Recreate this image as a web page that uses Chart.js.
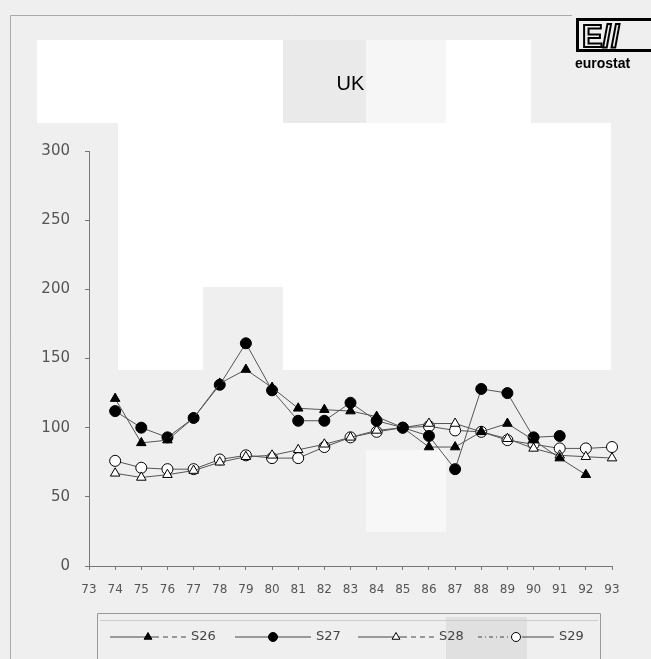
<!DOCTYPE html>
<html>
<head>
<meta charset="utf-8">
<script src="https://cdn.jsdelivr.net/npm/chart.js@4.4.1/dist/chart.umd.min.js"></script>
<style>
  html, body { margin: 0; padding: 0; background: #efefef; }
</style>
</head>
<body>
<canvas id="graficoUK" width="651" height="659"></canvas>
<script>
/* Datos (índice, 85 = 100) */
const years = ['73', '74', '75', '76', '77', '78', '79', '80', '81', '82', '83',
  '84', '85', '86', '87', '88', '89', '90', '91', '92', '93'];
const yTicks = [0, 50, 100, 150, 200, 250, 300];
const seriesNames = ['S26', 'S27', 'S28', 'S29'];

const s26 = [null, 121, 89, 91, 107, 132, 142, 129, 114, 113, 112, 108, 100, 86, 86, 97, 103, 91, 78, 66, null];
const s27 = [null, 112, 100, 93, 107, 131, 161, 127, 105, 105, 118, 105, 100, 94, 70, 128, 125, 93, 94, null, null];
const s28 = [null, 67, 64, 66, 69, 75, 79, 80, 84, 88, 93, 98, 100, 103, 103, 97, 92, 85, 80, 79, 78];
const s29 = [null, 76, 71, 70, 70, 77, 80, 78, 78, 86, 93, 97, 100, 101, 98, 97, 91, 88, 85, 85, 86];

// manchas claras del escaneo (fondo)
const patches = [
  [37, 40, 246, 83, '#ffffff'],
  [283, 40, 83, 83, '#eaeaea'],
  [366, 40, 80, 83, '#f6f6f6'],
  [446, 40, 85, 83, '#ffffff'],
  [118, 123, 493, 247, '#ffffff'],
  [203, 287, 80, 83, '#efefef'],
  [366, 450, 80, 82, '#f7f7f7'],
  [446, 617, 81, 42, '#e0e0e0']
];

const fondo = {
  id: 'fondo',
  beforeDraw(chart) {
    const c = chart.ctx;
    c.save();
    c.fillStyle = '#efefef';
    c.fillRect(0, 0, chart.width, chart.height);
    patches.forEach(p => { c.fillStyle = p[4]; c.fillRect(p[0], p[1], p[2], p[3]); });

    // marco
    c.strokeStyle = '#aaa';
    c.lineWidth = 1;
    c.beginPath();
    c.moveTo(10.5, 659); c.lineTo(10.5, 15.5); c.lineTo(572, 15.5);
    c.stroke();

    // logo eurostat
    c.strokeStyle = '#000';
    c.lineWidth = 3;
    c.strokeRect(577.5, 19.5, 80, 31);
    c.fillStyle = '#000';
    c.font = 'bold 31px "Liberation Sans"';
    c.textBaseline = 'alphabetic';
    c.lineWidth = 2;
    c.strokeText('E//', 582, 47);
    c.font = 'bold 14px "Liberation Sans"';
    c.fillText('eurostat', 575, 68);
    c.restore();
  }
};

const leyenda = {
  id: 'leyenda',
  afterDraw(chart) {
    const c = chart.ctx;
    const starts = [110, 235, 358, 478];
    const y = 637;
    c.save();
    c.strokeStyle = '#999';
    c.lineWidth = 1;
    c.beginPath();
    c.moveTo(97.5, 659); c.lineTo(97.5, 613.5); c.lineTo(600.5, 613.5); c.lineTo(600.5, 659);
    c.stroke();
    c.strokeStyle = '#ccc';
    c.beginPath();
    c.moveTo(100, 620.5); c.lineTo(598, 620.5);
    c.stroke();

    chart.data.datasets.forEach((ds, i) => {
      const x0 = starts[i];
      c.strokeStyle = '#444';
      c.lineWidth = 1;
      // tramo izquierdo y derecho con su propio trazo
      c.setLineDash(ds.legendDash[0]);
      c.beginPath(); c.moveTo(x0, y); c.lineTo(x0 + 44, y); c.stroke();
      c.setLineDash(ds.legendDash[1]);
      c.beginPath(); c.moveTo(x0 + 44, y); c.lineTo(x0 + 76, y); c.stroke();
      c.setLineDash([]);
      c.fillStyle = ds.pointBackgroundColor;
      c.strokeStyle = ds.pointBorderColor;
      Chart.helpers.drawPoint(c, {
        pointStyle: ds.pointStyle, radius: 4.5, borderWidth: 1, rotation: 0
      }, x0 + 38, y);
      c.fillStyle = '#444';
      c.font = '13px "DejaVu Sans"';
      c.textAlign = 'left';
      c.textBaseline = 'middle';
      c.fillText(ds.label, x0 + 81, y);
    });
    c.restore();
  }
};

function serie(label, data, style, filled, dash) {
  return {
    label: label,
    data: data,
    borderColor: '#555',
    borderWidth: 1,
    legendDash: dash,
    pointStyle: style,
    pointRadius: 5.5,
    pointBorderWidth: 1,
    pointBackgroundColor: filled ? '#000' : '#fff',
    pointBorderColor: '#000',
    tension: 0,
    fill: false
  };
}

const ctx = document.getElementById('graficoUK');

new Chart(ctx, {
  type: 'line',
  data: {
    labels: years,
    datasets: [
      serie(seriesNames[0], s26, 'triangle', true, [[], [5, 4]]),
      serie(seriesNames[1], s27, 'circle', true, [[], []]),
      serie(seriesNames[2], s28, 'triangle', false, [[], [5, 4]]),
      serie(seriesNames[3], s29, 'circle', false, [[4, 3, 1, 3], []])
    ]
  },
  options: {
    responsive: false,
    devicePixelRatio: 1,
    animation: false,
    layout: { padding: { left: 20, right: 39, top: 0, bottom: 0 } },
    scales: {
      x: {
        type: 'category',
        offset: false,
        grid: { drawOnChartArea: false, tickLength: 4, color: '#777' },
        border: { color: '#777' },
        ticks: {
          color: '#555',
          font: { family: 'DejaVu Sans', size: 12 },
          padding: 13,
          maxRotation: 0,
          autoSkip: false
        },
        afterFit(s) { s.height = 93; }
      },
      y: {
        min: yTicks[0],
        max: yTicks[yTicks.length - 1],
        grid: { drawOnChartArea: false, tickLength: 4, color: '#777' },
        border: { color: '#777' },
        ticks: {
          stepSize: yTicks[1] - yTicks[0],
          color: '#555',
          font: { family: 'DejaVu Sans', size: 15 },
          padding: 15
        },
        afterFit(s) { s.width = 69; }
      }
    },
    plugins: {
      legend: { display: false },
      tooltip: { enabled: false },
      title: {
        display: true,
        fullSize: false,
        text: 'UK',
        color: '#000',
        font: { family: 'Liberation Sans', size: 20, weight: 'normal' },
        padding: { top: 72, bottom: 55 }
      }
    }
  },
  plugins: [fondo, leyenda]
});
</script>
</body>
</html>
